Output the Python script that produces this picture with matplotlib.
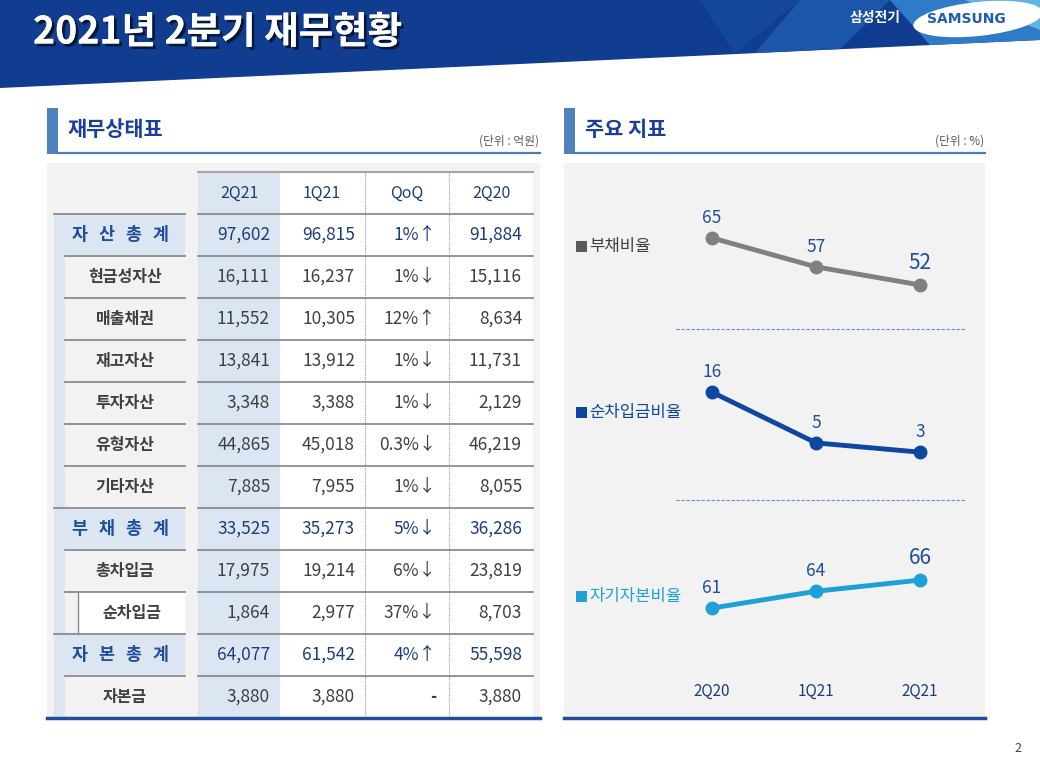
"""
Samsung Electro-Mechanics 2Q21 financial status slide: balance sheet table + key ratio lines.
"""

import matplotlib

matplotlib.use("Agg")
import matplotlib.patheffects as pe
import matplotlib.pyplot as plt
from matplotlib.patches import Ellipse, Polygon, Rectangle

plt.rcParams["font.family"] = ["Noto Sans CJK KR", "DejaVu Sans"]

# ---- data ----
row_labels = ["자산총계", "현금성자산", "매출채권", "재고자산", "투자자산", "유형자산", "기타자산",
              "부채총계", "총차입금", "순차입금", "자본총계", "자본금"]
row_is_total = [True, False, False, False, False, False, False, True, False, False, True, False]
col_headers = ["2Q21", "1Q21", "QoQ", "2Q20"]
q2_21 = [97602, 16111, 11552, 13841, 3348, 44865, 7885, 33525, 17975, 1864, 64077, 3880]
q1_21 = [96815, 16237, 10305, 13912, 3388, 45018, 7955, 35273, 19214, 2977, 61542, 3880]
qoq = ["1%↑", "1%↓", "12%↑", "1%↓", "1%↓", "0.3%↓", "1%↓", "5%↓", "6%↓", "37%↓", "4%↑", "-"]
q2_20 = [91884, 15116, 8634, 11731, 2129, 46219, 8055, 36286, 23819, 8703, 55598, 3880]

periods = ["2Q20", "1Q21", "2Q21"]
debt_ratio = [65, 57, 52]
net_debt_ratio = [16, 5, 3]
equity_ratio = [61, 64, 66]

NAVY = "#1f3d7a"
DARK = "#404040"
LIGHTBLUE = "#dce6f2"
PANEL = "#f2f2f2"
W, H = 1040, 770

fig = plt.figure(figsize=(W / 100, H / 100), dpi=100)
bg = fig.add_axes([0, 0, 1, 1])
bg.set_xlim(0, W)
bg.set_ylim(H, 0)
bg.axis("off")

# ---- header band ----
bg.add_patch(Polygon([(0, 0), (W, 0), (W, 40), (0, 88)], closed=True, fc="#103d8f", ec="none"))
for pts, c in [
    ([(700, 0), (800, 0), (735, 54)], "#154799"),
    ([(800, 0), (890, 0), (840, 49), (755, 53)], "#1c56aa"),
    ([(890, 0), (W, 0), (W, 40), (930, 45)], "#2f7bc8"),
    ([(965, 0), (W, 0), (W, 30)], "#62b2e6"),
]:
    bg.add_patch(Polygon(pts, closed=True, fc=c, ec="none"))
bg.text(33, 32, "2021년 2분기 재무현황", color="white", fontsize=27, fontweight="heavy",
        va="center", ha="left",
        path_effects=[pe.withSimplePatchShadow(offset=(2, -2), shadow_rgbFace="black", alpha=0.6),
                      pe.Normal()])
bg.text(875, 18, "삼성전기", color="white", fontsize=10, fontweight="bold", ha="center", va="center")
bg.add_patch(Ellipse((978, 19), 130, 34, angle=-6, fc="white", ec="none"))
bg.text(966, 19, "SAMSUNG", color="#1d5db5", fontsize=10, fontweight="bold", ha="center", va="center",
        family=["DejaVu Sans"])

# ---- section headings ----
for x0, x1, title, unit in [(47, 540, "재무상태표", "(단위 : 억원)"), (564, 985, "주요 지표", "(단위 : %)")]:
    bg.add_patch(Rectangle((x0, 108), 11, 46, fc="#4f81bd", ec="none"))
    bg.plot([x0 + 11, x1], [153, 153], color="#4a7ebb", lw=1.6)
    bg.text(x0 + 21, 130, title, color="#1a3f9a", fontsize=15, fontweight="bold", va="center", ha="left")
    bg.text(x1 - 1, 141, unit, color="#595959", fontsize=8.5, va="center", ha="right")

# ---- table ----
top, hdr_h, row_h = 172, 42, 42
bg.add_patch(Rectangle((47, 163), 493, 555, fc=PANEL, ec="none"))
bg.add_patch(Rectangle((198, top), 82, 718 - top, fc=LIGHTBLUE, ec="none"))
bg.add_patch(Rectangle((280, top), 253, 718 - top, fc="white", ec="none"))
bg.add_patch(Rectangle((54, top + hdr_h), 11, 718 - top - hdr_h, fc=LIGHTBLUE, ec="none"))
bg.plot([198, 533], [top, top], color="#a6a6a6", lw=1.5)
for xv in (365, 449):
    bg.plot([xv, xv], [top, 718], color="#9a9a9a", lw=0.8, ls=(0, (1, 1)))

col_centers = [239, 322, 407, 491]
for cx, hname in zip(col_centers, col_headers):
    bg.text(cx, top + hdr_h / 2, hname, color=NAVY, fontsize=11.5, ha="center", va="center", fontweight="light")

num_right = [270, 355, 436, 522]
for i, label in enumerate(row_labels):
    y0 = top + hdr_h + i * row_h
    yc = y0 + row_h / 2
    total = row_is_total[i]
    if total:
        bg.add_patch(Rectangle((54, y0), 131, row_h, fc=LIGHTBLUE, ec="none"))
        bg.plot([54, 185], [y0, y0], color="#8c8c8c", lw=1.3)
        for k, ch in enumerate(label):
            bg.text(120 + (k - 1.5) * 27, yc, ch, color="#1f4e9c", fontsize=12.5, fontweight="bold",
                    ha="center", va="center")
    elif label == "순차입금":
        bg.add_patch(Rectangle((78, y0), 107, row_h, fc="white", ec="none"))
        bg.plot([65, 185], [y0, y0], color="#8c8c8c", lw=1.3)
        bg.plot([78, 78], [y0, y0 + row_h], color="#8c8c8c", lw=1.0)
        bg.text(132, yc, label, color=DARK, fontsize=11.5, fontweight="bold", ha="center", va="center")
    else:
        bg.plot([65, 185], [y0, y0], color="#8c8c8c", lw=1.3)
        bg.text(125, yc, label, color=DARK, fontsize=11.5, fontweight="bold", ha="center", va="center")
    bg.plot([198, 533], [y0, y0], color="#8c8c8c", lw=1.3)

    color = NAVY if total else DARK
    vals = [f"{q2_21[i]:,}", f"{q1_21[i]:,}", qoq[i], f"{q2_20[i]:,}"]
    for xr, v in zip(num_right, vals):
        if v == "-":
            bg.text(xr, yc, v, color=color, fontsize=12, ha="right", va="center", fontweight="bold")
        else:
            bg.text(xr, yc, v, color=color, fontsize=12.5, ha="right", va="center", fontweight="light")

bg.plot([47, 540], [718, 718], color="#1f4e9c", lw=2.5)

# ---- ratio panel ----
bg.add_patch(Rectangle((564, 163), 421, 555, fc=PANEL, ec="none"))
bg.plot([564, 985], [718, 718], color="#1f4e9c", lw=2.5)
for yv in (329, 500):
    bg.plot([676, 965], [yv, yv], color="#5b8fd0", lw=0.8, ls=(0, (3, 1.5)))

legend_items = [(246, "부채비율", "#595959", DARK),
                (412, "순차입금비율", "#0d47a1", "#0d47a1"),
                (596, "자기자본비율", "#1fa0d8", "#1fa0d8")]
for yc, name, sq, tc in legend_items:
    bg.add_patch(Rectangle((576, yc - 5), 11, 11, fc=sq, ec="none"))
    bg.text(589, yc, name, color=tc, fontsize=12, ha="left", va="center")


def ratio_axes(y_top, y_bot, ylim):
    ax = fig.add_axes([660 / W, 1 - y_bot / H, 312 / W, (y_bot - y_top) / H])
    ax.set_xlim(-0.5, 2.5)
    ax.set_ylim(*ylim)
    ax.patch.set_alpha(0)
    for s in ax.spines.values():
        s.set_visible(False)
    ax.set_yticks([])
    ax.set_xticks([])
    return ax


series = [
    (ratio_axes(200, 320, (42.3, 75.5)), debt_ratio, "#808080", [False, False, True]),
    (ratio_axes(340, 490, (-5.2, 27.3)), net_debt_ratio, "#0d47a1", [False, False, False]),
    (ratio_axes(510, 672, (49.6, 78.5)), equity_ratio, "#1fa0d8", [False, False, True]),
]
xs = list(range(len(periods)))
for ax, vals, c, big in series:
    ax.plot(xs, vals, color=c, lw=3.5, marker="o", markersize=9, solid_capstyle="round")
    for x, v, b in zip(xs, vals, big):
        ax.annotate(str(v), (x, v), textcoords="offset points", xytext=(0, 8), ha="center",
                    va="bottom", color="#1f4e9c", fontsize=15 if b else 12.5)

ax3 = series[2][0]
ax3.set_xticks(xs, periods)
ax3.tick_params(axis="x", length=0, pad=8, labelsize=11, labelcolor=NAVY)

fig.text(1018 / W, 1 - 748 / H, "2", color=DARK, fontsize=9, ha="center", va="center")

fig.savefig("out.png", dpi=100)
